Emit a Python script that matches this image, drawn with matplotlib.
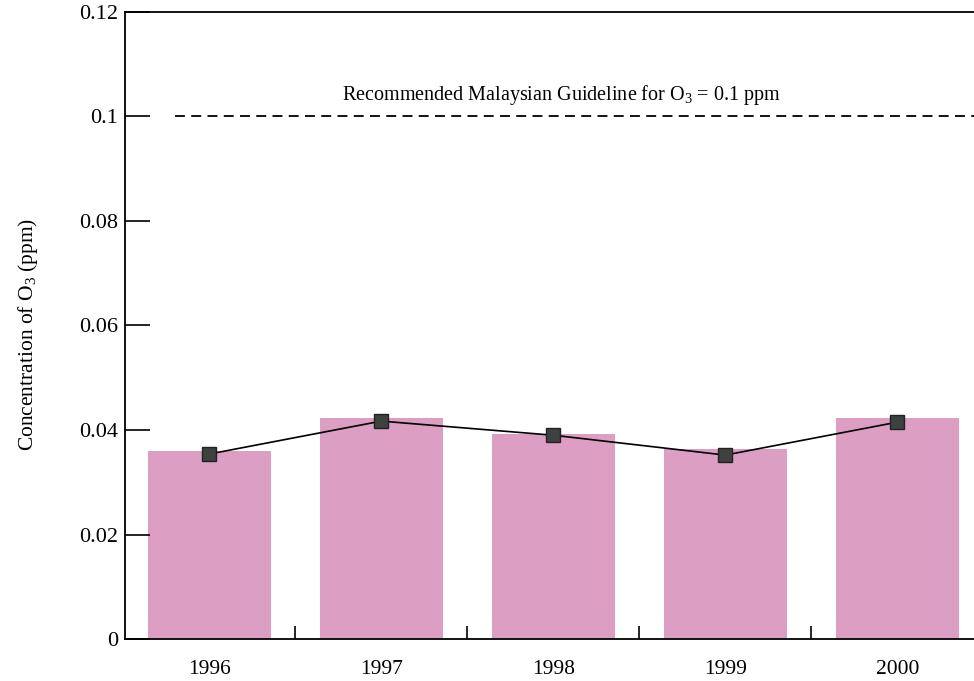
import matplotlib
matplotlib.use("Agg")
import matplotlib.pyplot as plt
import numpy as np

plt.rcParams['font.family'] = ['Liberation Serif', 'DejaVu Serif']
plt.rcParams['mathtext.fontset'] = 'custom'
plt.rcParams['mathtext.rm'] = 'Liberation Serif'
plt.rcParams['mathtext.it'] = 'Liberation Serif:italic'
plt.rcParams['mathtext.bf'] = 'Liberation Serif:bold'

years = ['1996', '1997', '1998', '1999', '2000']
bar_values = [0.0360, 0.0423, 0.0393, 0.0364, 0.0423]
line_values = [0.0354, 0.0417, 0.0390, 0.0352, 0.0415]
guideline = 0.1
y_ticks = [0, 0.02, 0.04, 0.06, 0.08, 0.1, 0.12]
y_tick_labels = ['0', '0.02', '0.04', '0.06', '0.08', '0.1', '0.12']

W, H = 974, 681
fig = plt.figure(figsize=(W / 100, H / 100), dpi=100)
left_px, right_px, top_px, bot_px = 125, 985, 12, 639
ax = fig.add_axes([left_px / W, 1 - bot_px / H, (right_px - left_px) / W, (bot_px - top_px) / H])

x = np.arange(len(years))
ax.bar(x, bar_values, width=0.715, color='#dc9fc3', zorder=1)
ax.plot(x, line_values, color='black', lw=1.2, marker='s', markersize=10,
        markerfacecolor='#3c423f', markeredgecolor='#222222', zorder=3)
ax.hlines(guideline, -0.2, 4.6, colors='black', linestyles=(0, (5.5, 3.5)), lw=1.3, zorder=2)
ax.text(2.05, 0.1018, r'Recommended Malaysian Guideline for O$_\mathrm{3}$ = 0.1 ppm',
        ha='center', va='bottom', fontsize=14.5)

ax.set_xlim(-0.49, 4.51)
ax.set_ylim(0, 0.12)
ax.set_yticks(y_ticks)
ax.set_yticklabels(y_tick_labels, fontsize=16)
ax.set_xticks(x)
ax.set_xticklabels(years, fontsize=15.5)
ax.set_xticks(x[:-1] + 0.5, minor=True)
ax.tick_params(axis='x', which='major', length=0, pad=15)
ax.tick_params(axis='x', which='minor', direction='in', length=9.5, width=1.2)
ax.tick_params(axis='y', direction='in', length=18, width=1.2, pad=5)
for s in ['left', 'bottom', 'top']:
    ax.spines[s].set_linewidth(1.3)
ax.spines['right'].set_visible(False)

fig.text(28 / W, 1 - 334 / H, r'Concentration of O$_\mathrm{3}$ (ppm)', rotation=90,
         ha='center', va='center', fontsize=15.5)

fig.savefig('out.png', dpi=100)
